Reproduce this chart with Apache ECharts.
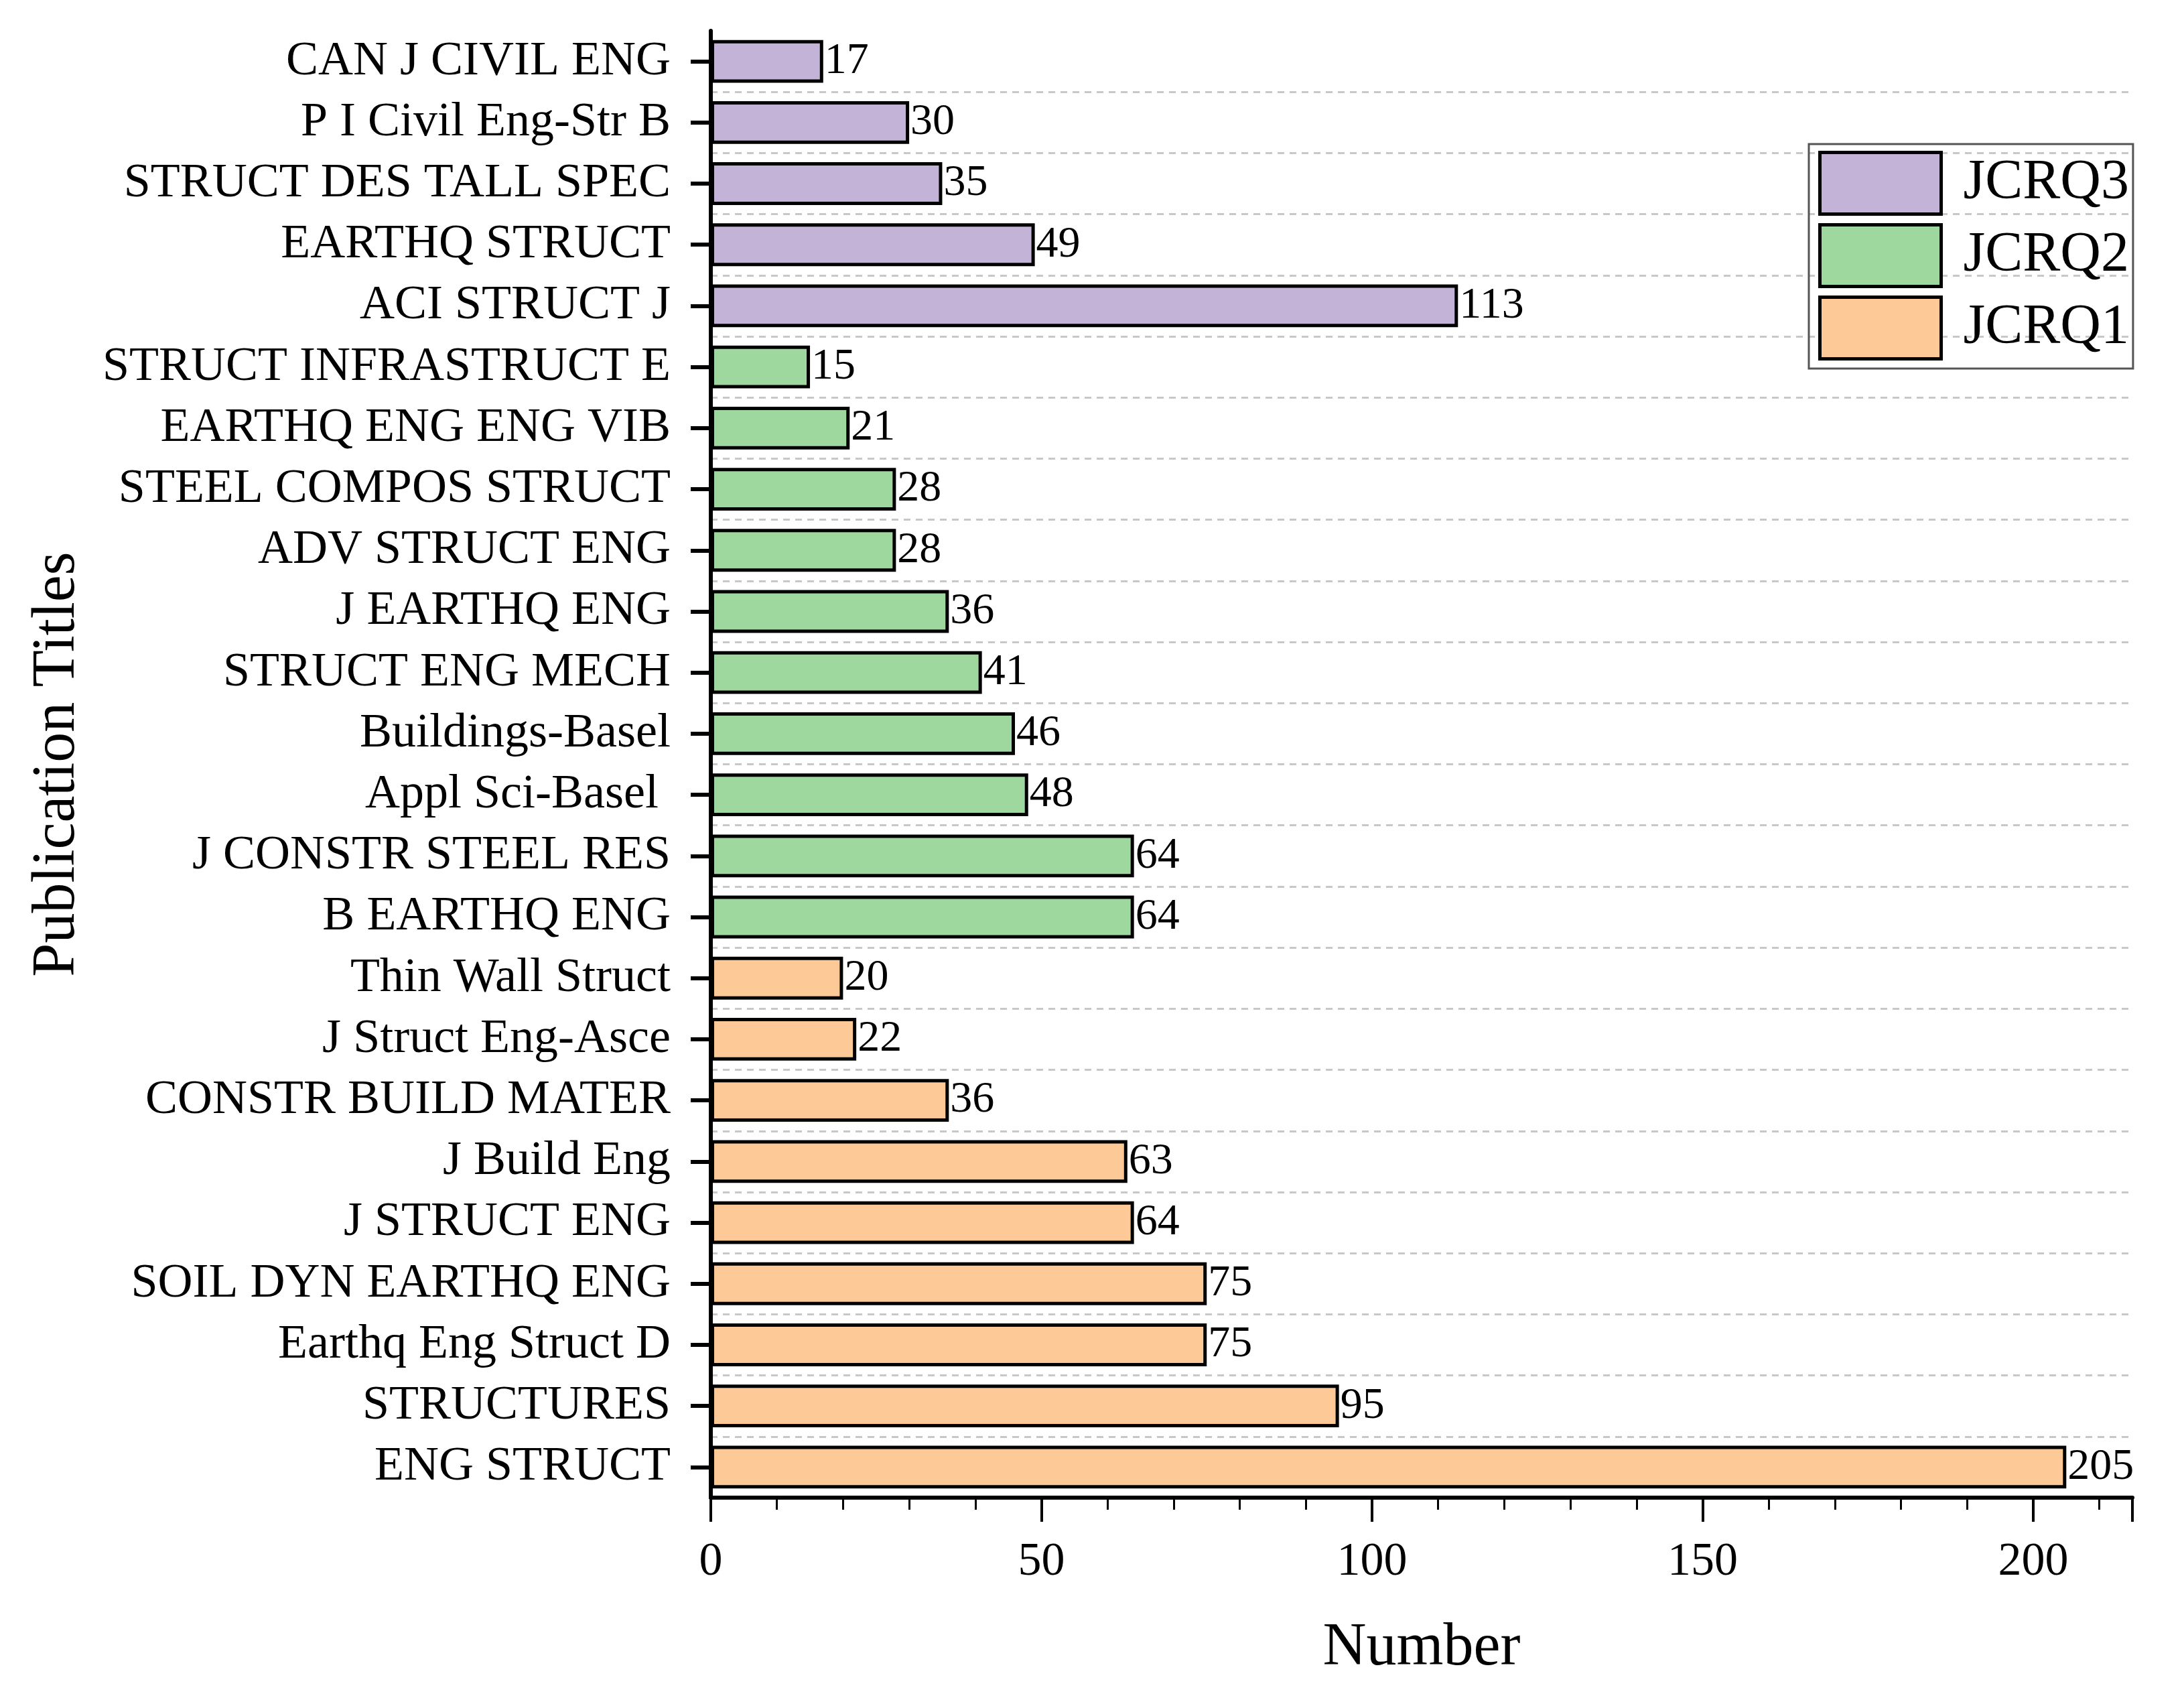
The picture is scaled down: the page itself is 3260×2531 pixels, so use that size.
<!DOCTYPE html>
<html>
<head>
<meta charset="utf-8">
<script src="https://cdn.jsdelivr.net/npm/echarts@6/dist/echarts.min.js"></script>
<style>html,body{margin:0;padding:0;background:#fff}#c{width:3260px;height:2531px}</style>
</head>
<body>
<div id="c"></div>
<script>
// Data (top to bottom)
const q3Titles = ["CAN J CIVIL ENG", "P I Civil Eng-Str B", "STRUCT DES TALL SPEC", "EARTHQ STRUCT", "ACI STRUCT J"];
const q3Values = [17, 30, 35, 49, 113];
const q2Titles = ["STRUCT INFRASTRUCT E", "EARTHQ ENG ENG VIB", "STEEL COMPOS STRUCT", "ADV STRUCT ENG", "J EARTHQ ENG", "STRUCT ENG MECH", "Buildings-Basel", "Appl Sci-Basel ", "J CONSTR STEEL RES", "B EARTHQ ENG"];
const q2Values = [15, 21, 28, 28, 36, 41, 46, 48, 64, 64];
const q1Titles = ["Thin Wall Struct", "J Struct Eng-Asce", "CONSTR BUILD MATER", "J Build Eng", "J STRUCT ENG", "SOIL DYN EARTHQ ENG", "Earthq Eng Struct D", "STRUCTURES", "ENG STRUCT"];
const q1Values = [20, 22, 36, 63, 64, 75, 75, 95, 205];
const seriesNames = ["JCRQ3", "JCRQ2", "JCRQ1"];
const xTicks = [0, 50, 100, 150, 200];

const categories = q3Titles.concat(q2Titles, q1Titles);
const n = categories.length;
function fill(titles, values) {
  const arr = new Array(n).fill(null);
  titles.forEach((t, i) => { arr[categories.indexOf(t)] = values[i]; });
  return arr;
}
const groups = [[q3Titles, q3Values], [q2Titles, q2Values], [q1Titles, q1Values]];
const colors = ["#C3B3D7", "#9FD89E", "#FCC997"];
const FONT = "Liberation Serif";

const chart = echarts.init(document.getElementById('c'));
chart.setOption({
  backgroundColor: '#fff',
  animation: false,
  grid: { left: 1061, right: 77, top: 46, bottom: 296, containLabel: false },
  legend: {
    orient: 'vertical',
    left: 2700, top: 215,
    padding: [10, 6, 12, 14],
    itemGap: 11,
    itemWidth: 181, itemHeight: 92,
    borderColor: '#555', borderWidth: 3,
    icon: 'rect',
    data: seriesNames,
    textStyle: { fontFamily: FONT, fontSize: 84, color: '#000', padding: [0, 0, 0, 28] },
    itemStyle: { borderColor: '#000', borderWidth: 5 }
  },
  xAxis: {
    type: 'value',
    min: 0, max: 215, interval: 50,
    name: 'Number',
    nameLocation: 'middle',
    nameGap: 180,
    nameTextStyle: { fontFamily: FONT, fontSize: 90, color: '#000' },
    axisLine: { show: true, lineStyle: { color: '#000', width: 6 } },
    axisTick: { show: true, length: 36, lineStyle: { color: '#000', width: 4 } },
    minorTick: { show: true, splitNumber: 5, length: 18, lineStyle: { color: '#000', width: 3 } },
    axisLabel: {
      fontFamily: FONT, fontSize: 70, color: '#000', margin: 62,
      formatter: v => (xTicks.indexOf(v) >= 0 ? String(v) : '')
    },
    splitLine: { show: false }
  },
  yAxis: {
    type: 'category',
    inverse: true,
    data: categories,
    name: 'Publication Titles',
    nameLocation: 'middle',
    nameGap: 930,
    nameRotate: 90,
    nameTextStyle: { fontFamily: FONT, fontSize: 90, color: '#000' },
    axisLine: { show: true, lineStyle: { color: '#000', width: 6 } },
    axisTick: { show: true, interval: 0, alignWithLabel: true, length: 30, lineStyle: { color: '#000', width: 6 } },
    axisLabel: { interval: 0, fontFamily: FONT, fontSize: 72, color: '#000', margin: 60 },
    splitLine: { show: true, interval: 0, showMinLine: false, showMaxLine: false, lineStyle: { color: '#c8c8c8', width: 3, type: [10, 8] } }
  },
  series: groups.map((g, i) => ({
    name: seriesNames[i],
    type: 'bar',
    stack: 'all',
    barCategoryGap: '30%',
    data: fill(g[0], g[1]),
    itemStyle: { color: colors[i], borderColor: '#000', borderWidth: 5 },
    label: { show: true, position: 'right', distance: 2, fontFamily: FONT, fontSize: 66, color: '#000' }
  }))
});
</script>
</body>
</html>
